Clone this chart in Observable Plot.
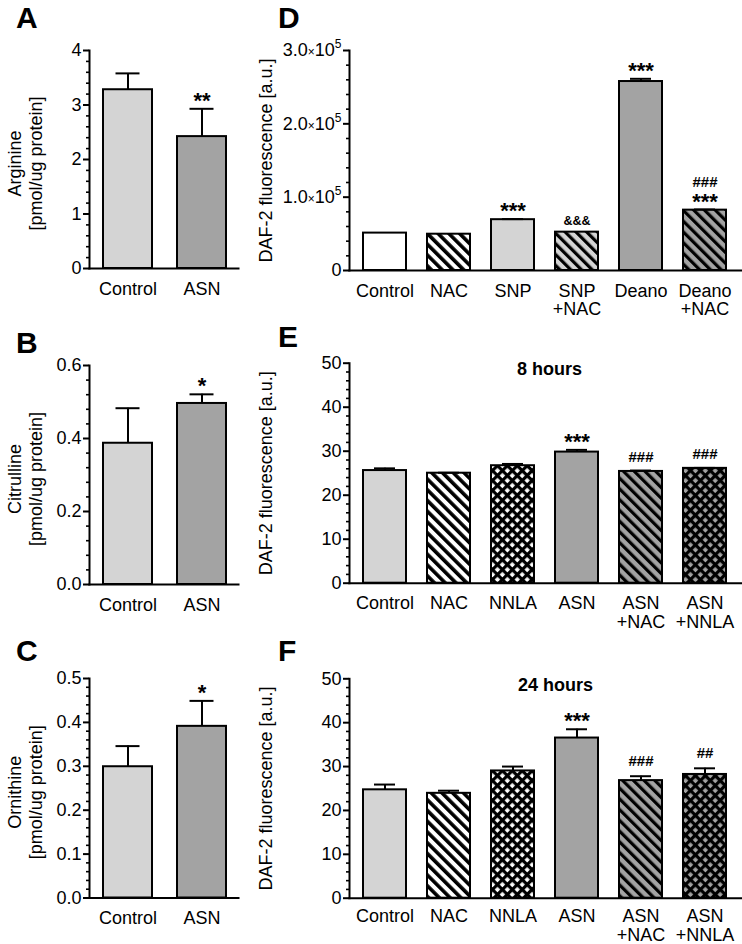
<!DOCTYPE html>
<html><head><meta charset="utf-8">
<script src="https://cdn.jsdelivr.net/npm/d3@7"></script>
<script src="https://cdn.jsdelivr.net/npm/@observablehq/plot@0.6"></script>
<style>
body{margin:0;background:#fff;}
#fig{position:relative;width:742px;height:944px;overflow:hidden;font-family:"Liberation Sans",Arial,sans-serif;background:#fff;}
#fig > svg{position:absolute;overflow:visible;}
.letter{position:absolute;font-weight:bold;font-size:30px;line-height:30px;color:#000;}
</style></head><body>
<svg width="0" height="0" style="position:absolute">
  <defs>
    <pattern id="stripeWhite" patternUnits="userSpaceOnUse" width="7.6" height="7.6" patternTransform="rotate(-45)">
      <rect width="7.6" height="7.6" fill="#ffffff"/><rect width="3.6" height="7.6" fill="#000"/>
    </pattern>
    <pattern id="stripeLight" patternUnits="userSpaceOnUse" width="7.6" height="7.6" patternTransform="rotate(-45)">
      <rect width="7.6" height="7.6" fill="#d4d4d4"/><rect width="3.2" height="7.6" fill="#000"/>
    </pattern>
    <pattern id="stripeDark" patternUnits="userSpaceOnUse" width="7.6" height="7.6" patternTransform="rotate(-45)">
      <rect width="7.6" height="7.6" fill="#a3a3a3"/><rect width="3.2" height="7.6" fill="#000"/>
    </pattern>
    <pattern id="crossWhite" patternUnits="userSpaceOnUse" width="7" height="7" patternTransform="rotate(45)">
      <rect width="7" height="7" fill="#ffffff"/><rect width="7" height="3.2" fill="#000"/><rect width="3.2" height="7" fill="#000"/>
    </pattern>
    <pattern id="crossDark" patternUnits="userSpaceOnUse" width="7" height="7" patternTransform="rotate(45)">
      <rect width="7" height="7" fill="#a3a3a3"/><rect width="7" height="3.2" fill="#000"/><rect width="3.2" height="7" fill="#000"/>
    </pattern>
  </defs>
</svg>
<div id="fig"></div>
<script>
// ---------- data ----------
const groupsAC = ["Control", "ASN"];
const arginineMean = [3.28, 2.42];
const arginineErr = [0.30, 0.51];
const citrullineMean = [0.387, 0.496];
const citrullineErr = [0.096, 0.025];
const ornithineMean = [0.299, 0.391];
const ornithineErr = [0.047, 0.058];

const groupsD = ["Control", "NAC", "SNP", "SNP\n+NAC", "Deano", "Deano\n+NAC"];
const dafMeanD = [51000, 49500, 69300, 52300, 257700, 82300];
const dafErrD = [0, 0, 800, 0, 3700, 900];

const groupsEF = ["Control", "NAC", "NNLA", "ASN", "ASN\n+NAC", "ASN\n+NNLA"];
const daf8hMean = [25.6, 25.0, 26.7, 29.8, 25.4, 26.1];
const daf8hErr = [0.5, 0.1, 0.4, 0.5, 0.2, 0.1];
const daf24hMean = [24.7, 23.9, 29.0, 36.5, 26.8, 28.2];
const daf24hErr = [1.2, 0.6, 1.0, 2.0, 1.0, 1.4];

const annotA = [["ASN", "**"]];
const annotB = [["ASN", "*"]];
const annotC = [["ASN", "*"]];
const annotD = [["SNP", "***"], ["SNP\n+NAC", "&&&"], ["Deano", "***"], ["Deano\n+NAC", "***"], ["Deano\n+NAC", "###"]];
const annotE = [["ASN", "***"], ["ASN\n+NAC", "###"], ["ASN\n+NNLA", "###"]];
const annotF = [["ASN", "***"], ["ASN\n+NAC", "###"], ["ASN\n+NNLA", "##"]];

// ---------- styles ----------
const fillsAC = ["#d4d4d4", "#a3a3a3"];
const fillsD = ["#ffffff", "url(#stripeWhite)", "#d4d4d4", "url(#stripeLight)", "#a3a3a3", "url(#stripeDark)"];
const fillsEF = ["#d4d4d4", "url(#stripeWhite)", "url(#crossWhite)", "#a3a3a3", "url(#stripeDark)", "url(#crossDark)"];

const FONT = "'Liberation Sans', Arial, Helvetica, sans-serif";
const fig = document.getElementById("fig");

function steps(lo, hi, step) {
  const n = Math.round((hi - lo) / step);
  return d3.range(n + 1).map(i => +(lo + i * step).toFixed(6));
}

function panel(o) {
  const rows = o.groups.map((g, i) => ({g, v: o.means[i], e: o.errs[i], top: o.means[i] + o.errs[i], f: o.fills[i]}));
  const byG = new Map(rows.map(r => [r.g, r]));
  const majors = steps(o.yDomain[0], o.yDomain[1], o.major);
  const minors = steps(o.yDomain[0], o.yDomain[1], o.minor).filter(t => !majors.some(m => Math.abs(m - t) < 1e-9));
  const seen = new Map();
  const ann = o.annots.map(([g, t]) => {
    const k = seen.get(g) || 0; seen.set(g, k + 1);
    return {g, t, y: byG.get(g).top, level: k};
  });
  const annMark = (filter, dy, fontSize) =>
    Plot.text(ann.filter(filter), {x: "g", y: "y", text: "t", dy, fontSize, fontWeight: "bold", fill: "#000", textAnchor: "middle"});
  const marks = [
    Plot.barY(rows, {x: "g", y: "v", fill: "f", stroke: "#000", strokeWidth: 2}),
    Plot.ruleX(rows.filter(r => r.e > 0), {x: "g", y1: "v", y2: "top", stroke: "#000", strokeWidth: 2}),
    Plot.tickY(rows.filter(r => r.e > 0), {x: "g", y: "top", stroke: "#000", strokeWidth: 2, insetLeft: o.cap, insetRight: o.cap}),
    Plot.frame({anchor: "left", stroke: "#000", strokeWidth: 2}),
    Plot.frame({anchor: "bottom", stroke: "#000", strokeWidth: 2}),
    Plot.axisY(majors, {tickSize: 6, tickPadding: 2, strokeWidth: 2, fontSize: 18, fill: "#000", label: null, tickFormat: o.yfmt}),
    Plot.axisY(minors, {tickSize: 3, strokeWidth: 1.6, label: null, tickFormat: () => ""}),
    Plot.axisX({tickSize: 0, tickPadding: o.xPad, fontSize: 18, fill: "#000", label: null, lineHeight: 1.02}),
    Plot.text([o.ylabel], {text: d => d, frameAnchor: "left", textAnchor: "middle", lineAnchor: "middle", rotate: -90, dx: o.ylabelX - o.ml, dy: o.ylabelDy || 0, fontSize: 18, lineHeight: 1.2, fill: "#000"}),
    annMark(d => d.t.startsWith("*") && d.level === 0, -8, 22),
    annMark(d => d.t.startsWith("#") && d.level === 0, o.hashDy, 15),
    annMark(d => d.t.startsWith("#") && d.level > 0, -27.5, 15),
    annMark(d => d.t.startsWith("&"), -11.5, 12.5)
  ];
  if (o.title) marks.push(Plot.text([o.title], {text: d => d, frameAnchor: "top", textAnchor: "middle", lineAnchor: "middle", dy: 6.5, dx: o.titleDx, fontSize: 18, fontWeight: "bold", fill: "#000"}));
  const svg = Plot.plot({
    width: o.width, height: o.height,
    marginTop: o.mt, marginBottom: o.mb, marginLeft: o.ml, marginRight: o.mr,
    style: {fontFamily: FONT, fontSize: "18px", color: "#000", background: "transparent"},
    x: {domain: o.groups, range: o.xRange, paddingInner: o.pad, paddingOuter: 0},
    y: {domain: o.yDomain},
    color: {type: "identity"},
    marks
  });
  // scientific tick labels
  svg.querySelectorAll("text").forEach(t => {
    const m = t.textContent.match(/^(\d\.\d)×10\^(\d)$/);
    if (!m || t.querySelector("tspan")) return;
    t.textContent = "";
    const add = (s, attrs) => {
      const ts = document.createElementNS("http://www.w3.org/2000/svg", "tspan");
      ts.textContent = s;
      for (const k in attrs) ts.setAttribute(k, attrs[k]);
      t.appendChild(ts);
    };
    add(m[1], {});
    add("×", {"font-size": 12});
    add("10", {});
    add(m[2], {"font-size": 12, dy: -8});
  });
  svg.style.left = o.left + "px";
  svg.style.top = o.top + "px";
  fig.appendChild(svg);
  const L = document.createElement("div");
  L.className = "letter";
  L.textContent = o.letter;
  L.style.left = o.letterX + "px";
  L.style.top = o.letterY + "px";
  fig.appendChild(L);
}

const leftCommon = {left: 0, width: 245, ml: 89, mr: 7, xRange: [103, 226], pad: 0.338, cap: 12.5, xPad: 13, ylabelX: 24, ylabelDy: 4, letterX: 16, hashDy: -13.5};
const rightCommon = {left: 245, width: 497, ml: 104, mr: 1, xRange: [115, 484], pad: 0.323, cap: 11, xPad: 13, ylabelX: 20, letterX: 278, hashDy: -13.5,
  ylabel: "DAF-2 fluorescence [a.u.]"};

panel({...leftCommon, top: 0, height: 310, mt: 50, mb: 42, groups: groupsAC, means: arginineMean, errs: arginineErr, fills: fillsAC,
  yDomain: [0, 4], major: 1, minor: 0.2, yfmt: d3.format("d"), ylabel: "Arginine\n[pmol/ug protein]", annots: annotA, letter: "A", letterY: 3});
panel({...leftCommon, top: 310, height: 310, mt: 55, mb: 36, groups: groupsAC, means: citrullineMean, errs: citrullineErr, fills: fillsAC,
  yDomain: [0, 0.6], major: 0.2, minor: 0.04, yfmt: d3.format(".1f"), ylabel: "Citrulline\n[pmol/ug protein]", annots: annotB, letter: "B", letterY: 328});
panel({...leftCommon, top: 620, height: 324, mt: 58, mb: 46.5, groups: groupsAC, means: ornithineMean, errs: ornithineErr, fills: fillsAC,
  yDomain: [0, 0.5], major: 0.1, minor: 0.02, yfmt: d3.format(".1f"), ylabel: "Ornithine\n[pmol/ug protein]", annots: annotC, letter: "C", letterY: 636});

panel({...rightCommon, top: 0, height: 310, mt: 50, mb: 40, groups: groupsD, means: dafMeanD, errs: dafErrD, fills: fillsD,
  yDomain: [0, 300000], major: 100000, minor: 20000, yfmt: d => d === 0 ? "0" : (d / 1e5).toFixed(1) + "×10^5",
  annots: annotD, letter: "D", letterY: 3});
panel({...rightCommon, top: 310, height: 310, mt: 52.7, mb: 37.3, groups: groupsEF, means: daf8hMean, errs: daf8hErr, fills: fillsEF,
  yDomain: [0, 50], major: 10, minor: 2, yfmt: d3.format("d"), annots: annotE, title: "8 hours", titleDx: 4, letter: "E", letterY: 322});
panel({...rightCommon, top: 620, height: 324, mt: 58.3, mb: 46.3, groups: groupsEF, means: daf24hMean, errs: daf24hErr, fills: fillsEF,
  yDomain: [0, 50], major: 10, minor: 2, yfmt: d3.format("d"), annots: annotF, title: "24 hours", titleDx: 10, hashDy: -15, xPad: 11, letter: "F", letterY: 636});
</script>
</body></html>
